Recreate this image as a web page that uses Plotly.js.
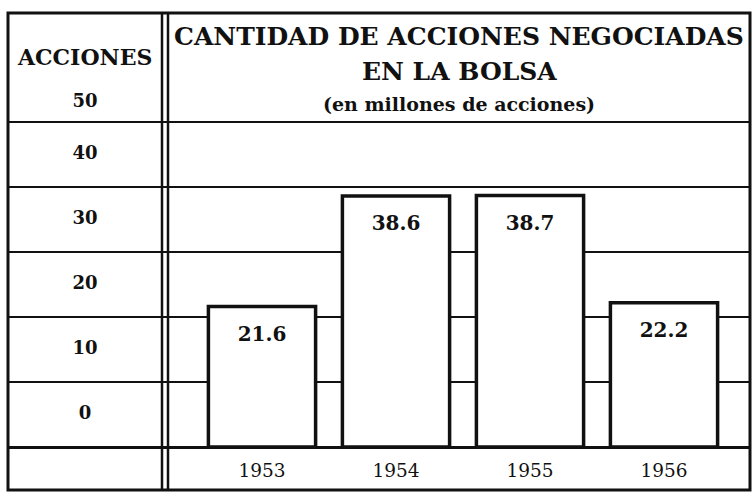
<!DOCTYPE html>
<html>
<head>
<meta charset="utf-8">
<script src="https://cdn.plot.ly/plotly-3.0.1.min.js"></script>
<style>
  html, body { margin: 0; padding: 0; background: #fff; }
  #chart { width: 752px; height: 497px; }
</style>
</head>
<body>
<div id="chart"></div>
<script>
// ---- data ----
const years = ['1953', '1954', '1955', '1956'];
const acciones = [21.6, 38.6, 38.7, 22.2];
const tickValues = [0, 10, 20, 30, 40, 50];
const tickLabels = ['0', '10', '20', '30', '40', '50'];
const axisHeader = 'ACCIONES';
const titleLines = ['CANTIDAD DE ACCIONES NEGOCIADAS', 'EN LA BOLSA', '(en millones de acciones)'];

// ---- styling ----
const INK = '#111';
const SERIF = '"DejaVu Serif", "Liberation Serif", serif';
const W = 752, H = 497;
const M = {l: 8, r: 2, t: 13, b: 7};
const plotW = W - M.l - M.r;
const plotH = H - M.t - M.b;
const colRight = (162 - M.l) / plotW;
const mainLeft = (168 - M.l) / plotW;
const paperY = py => (H - M.b - py) / plotH;

const lastIdx = tickValues.length - 1;
const labelY = tickValues.map((v, i) => v + (i === lastIdx ? 3 : 5));

const traces = [
  {
    type: 'scatter', mode: 'text', xaxis: 'x', yaxis: 'y',
    x: tickValues.map(() => 0), y: labelY, text: tickLabels,
    textposition: 'middle center',
    textfont: {family: SERIF, size: 18, color: INK, weight: 700},
    hoverinfo: 'skip', showlegend: false
  },
  {
    type: 'bar', xaxis: 'x2', yaxis: 'y',
    x: years, y: acciones, width: 0.8,
    marker: {color: '#fff', line: {color: INK, width: 3.5}},
    hoverinfo: 'skip', showlegend: false
  },
  {
    type: 'scatter', mode: 'text', xaxis: 'x2', yaxis: 'y',
    x: years, y: acciones.map(v => v - 4.5),
    text: acciones.map(v => v.toFixed(1)),
    textposition: 'middle center',
    textfont: {family: SERIF, size: 20, color: INK, weight: 700},
    hoverinfo: 'skip', showlegend: false
  }
];

const layout = {
  width: W, height: H,
  margin: M,
  paper_bgcolor: '#fff', plot_bgcolor: '#fff',
  showlegend: false,
  xaxis: {
    domain: [0, mainLeft], range: [-1, 1.08],
    showgrid: false, zeroline: false, showline: false, showticklabels: false, ticks: '',
    fixedrange: true
  },
  xaxis2: {
    domain: [mainLeft, 1], anchor: 'y', type: 'category',
    range: [(168 - 262) / 134, (750 - 262) / 134],
    showgrid: false, zeroline: false, showline: false, ticks: '',
    ticklabelstandoff: 10,
    tickfont: {family: SERIF, size: 18.5, color: INK},
    fixedrange: true
  },
  yaxis: {
    domain: [paperY(447), 1], anchor: 'x',
    range: [0, (447 - M.t) / 6.5],
    tickmode: 'array', tickvals: tickValues,
    showticklabels: false, ticks: '',
    showgrid: true, gridcolor: INK, gridwidth: 2.5,
    zeroline: true, zerolinecolor: INK, zerolinewidth: 3,
    showline: false, fixedrange: true
  },
  annotations: [
    {
      xref: 'x', yref: 'y', x: 0, y: 60, yanchor: 'middle', text: axisHeader, showarrow: false,
      font: {family: SERIF, size: 22, color: INK, weight: 700}
    },
    {
      xref: 'x2 domain', yref: 'paper', x: 0.5, y: paperY(37), yanchor: 'middle', text: titleLines[0], showarrow: false,
      font: {family: SERIF, size: 25, color: INK, weight: 700}
    },
    {
      xref: 'x2 domain', yref: 'paper', x: 0.5, y: paperY(71), yanchor: 'middle', text: titleLines[1], showarrow: false,
      font: {family: SERIF, size: 25, color: INK, weight: 700}
    },
    {
      xref: 'x2 domain', yref: 'paper', x: 0.5, y: paperY(104), yanchor: 'middle', text: titleLines[2], showarrow: false,
      font: {family: SERIF, size: 19, color: INK, weight: 700}
    }
  ],
  shapes: [
    {type: 'rect', xref: 'paper', yref: 'paper', x0: 0, x1: 1, y0: 0, y1: 1,
     line: {color: INK, width: 3}},
    {type: 'line', xref: 'paper', yref: 'paper', x0: colRight, x1: colRight, y0: 0, y1: 1,
     line: {color: INK, width: 2.5}},
    {type: 'line', xref: 'paper', yref: 'paper', x0: mainLeft, x1: mainLeft, y0: 0, y1: 1,
     line: {color: INK, width: 2.5}}
  ]
};

Plotly.newPlot('chart', traces, layout, {displayModeBar: false, staticPlot: true});
</script>
</body>
</html>
